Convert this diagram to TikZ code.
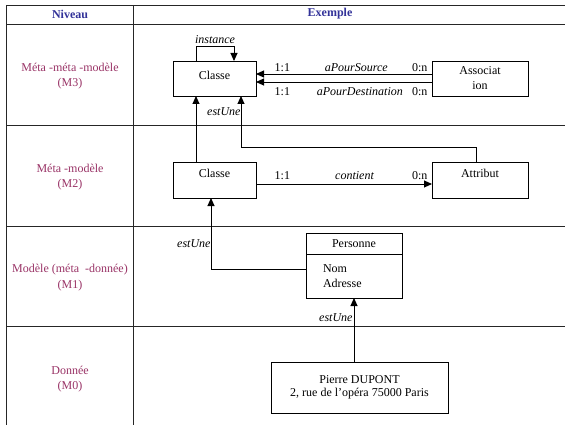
\documentclass[tikz,border=0pt]{standalone}
\usepackage{fontspec}
\setmainfont{Liberation Serif}
\usetikzlibrary{arrows.meta, positioning}

\definecolor{bleuTitre}{RGB}{51,51,153}
\definecolor{roseNiveau}{RGB}{153,51,102}

\tikzset{
	grille/.style={line width=0.8pt, black!85},
	boite/.style={draw, line width=0.9pt, outer sep=0pt, inner sep=2pt, font=\fontsize{12}{15}\selectfont},
	fleche/.style={-{Triangle[length=8pt, width=7pt]}, line width=0.9pt},
	role/.style={font=\fontsize{12}{14}\selectfont\itshape, inner sep=1.5pt},
	card/.style={font=\fontsize{12}{14}\selectfont, inner sep=1.5pt},
	niveau/.style={roseNiveau, align=center, font=\fontsize{12}{15.5}\selectfont},
	titre/.style={bleuTitre, font=\fontsize{12}{14}\selectfont\bfseries}
}

\begin{document}
\begin{tikzpicture}[x=1pt, y=-1pt]
		\useasboundingbox (0, 0) rectangle (565, 425);

		% le tableau
		\draw[grille]	(6, 5) -- (565, 5)
						(6, 24) -- (565, 24)
						(6, 125) -- (565, 125)
						(6, 226) -- (565, 226)
						(6, 326) -- (565, 326)
						(6, 5) -- (6, 425)
						(133, 5) -- (133, 425);

		\node[titre] (titreNiveau) at (70, 14) {Niveau};
		\node[titre] (titreExemple) at (330, 14) {Exemple};

		\node[niveau] (niveauM3) at (70, 76) {Méta -méta -modèle\\(M3)};
		\node[niveau] (niveauM2) at (70, 177) {Méta -modèle\\(M2)};
		\node[niveau] (niveauM1) at (70, 277.5) {Modèle (méta\ \ -donnée)\\(M1)};
		\node[niveau] (niveauM0) at (70, 379) {Donnée\\(M0)};

		% les boites
		\node[boite, minimum width=83pt, minimum height=35pt, text depth=7pt] (classeM3) at (214.5, 78.5) {Classe};
		\node[boite, minimum width=96pt, minimum height=35pt, align=center] (association) at (480, 78.5) {Associat\\ion};
		\node[boite, minimum width=83pt, minimum height=36pt, text depth=14pt] (classeM2) at (214.5, 180) {Classe};
		\node[boite, minimum width=96pt, minimum height=36pt, text depth=14pt] (attribut) at (480, 180) {Attribut};
		\node[boite, minimum width=96pt, minimum height=21pt] (personneTitre) at (354, 243.5) {Personne};
		\node[boite, minimum width=96pt, minimum height=44pt, inner xsep=17pt, text width=62pt, align=left, below=0pt of personneTitre] (personneAttr) {Nom\\Adresse};
		\node[boite, minimum width=177pt, minimum height=51pt, align=center, font=\fontsize{12}{13}\selectfont] (pierre) at (359.5, 387.5) {Pierre DUPONT\\2, rue de l’opéra 75000 Paris};

		% M3
		\draw[fleche]	([xshift=-18.5pt]classeM3.north) |- node[role, above, pos=0.75]{instance} ([xshift=19.5pt, yshift=15pt]classeM3.north) -- ([xshift=19.5pt]classeM3.north);
		\draw[fleche]	([yshift=4.5pt]association.west) -- node[card, above, pos=0.07]{0:n} node[role, above, pos=0.43]{aPourSource} node[card, above, pos=0.85]{1:1} ([yshift=4.5pt]classeM3.east);
		\draw[fleche]	([yshift=-3.5pt]association.west) -- node[card, below=4pt, pos=0.07]{0:n} node[role, below=4pt, pos=0.41]{aPourDestination} node[card, below=4pt, pos=0.85]{1:1} ([yshift=-3.5pt]classeM3.east);

		% M2
		\draw[fleche]	([xshift=-18.5pt]classeM2.north) -- ([xshift=-18.5pt]classeM3.south);
		\draw[fleche]	([xshift=-4pt]attribut.north) -- ++(0, -15) -| node[role, left, inner sep=0pt, pos=0.85]{estUne} ([xshift=26.5pt]classeM3.south);
		\draw[fleche]	([yshift=-4pt]classeM2.east) -- node[card, above=2pt, pos=0.15]{1:1} node[role, above=2pt, pos=0.56]{contient} node[card, above=2pt, pos=0.93]{0:n} ([yshift=-4pt]attribut.west);

		% M1 et M0
		\draw[fleche]	([yshift=7pt]personneAttr.west) -| node[role, left, inner sep=0pt, pos=0.68]{estUne} ([xshift=-3.5pt]classeM2.south);
		\draw[fleche]	([xshift=-5.5pt]pierre.north) -- node[role, left, inner sep=1pt, pos=0.7]{estUne} (personneAttr.south);
	\end{tikzpicture}
\end{document}
